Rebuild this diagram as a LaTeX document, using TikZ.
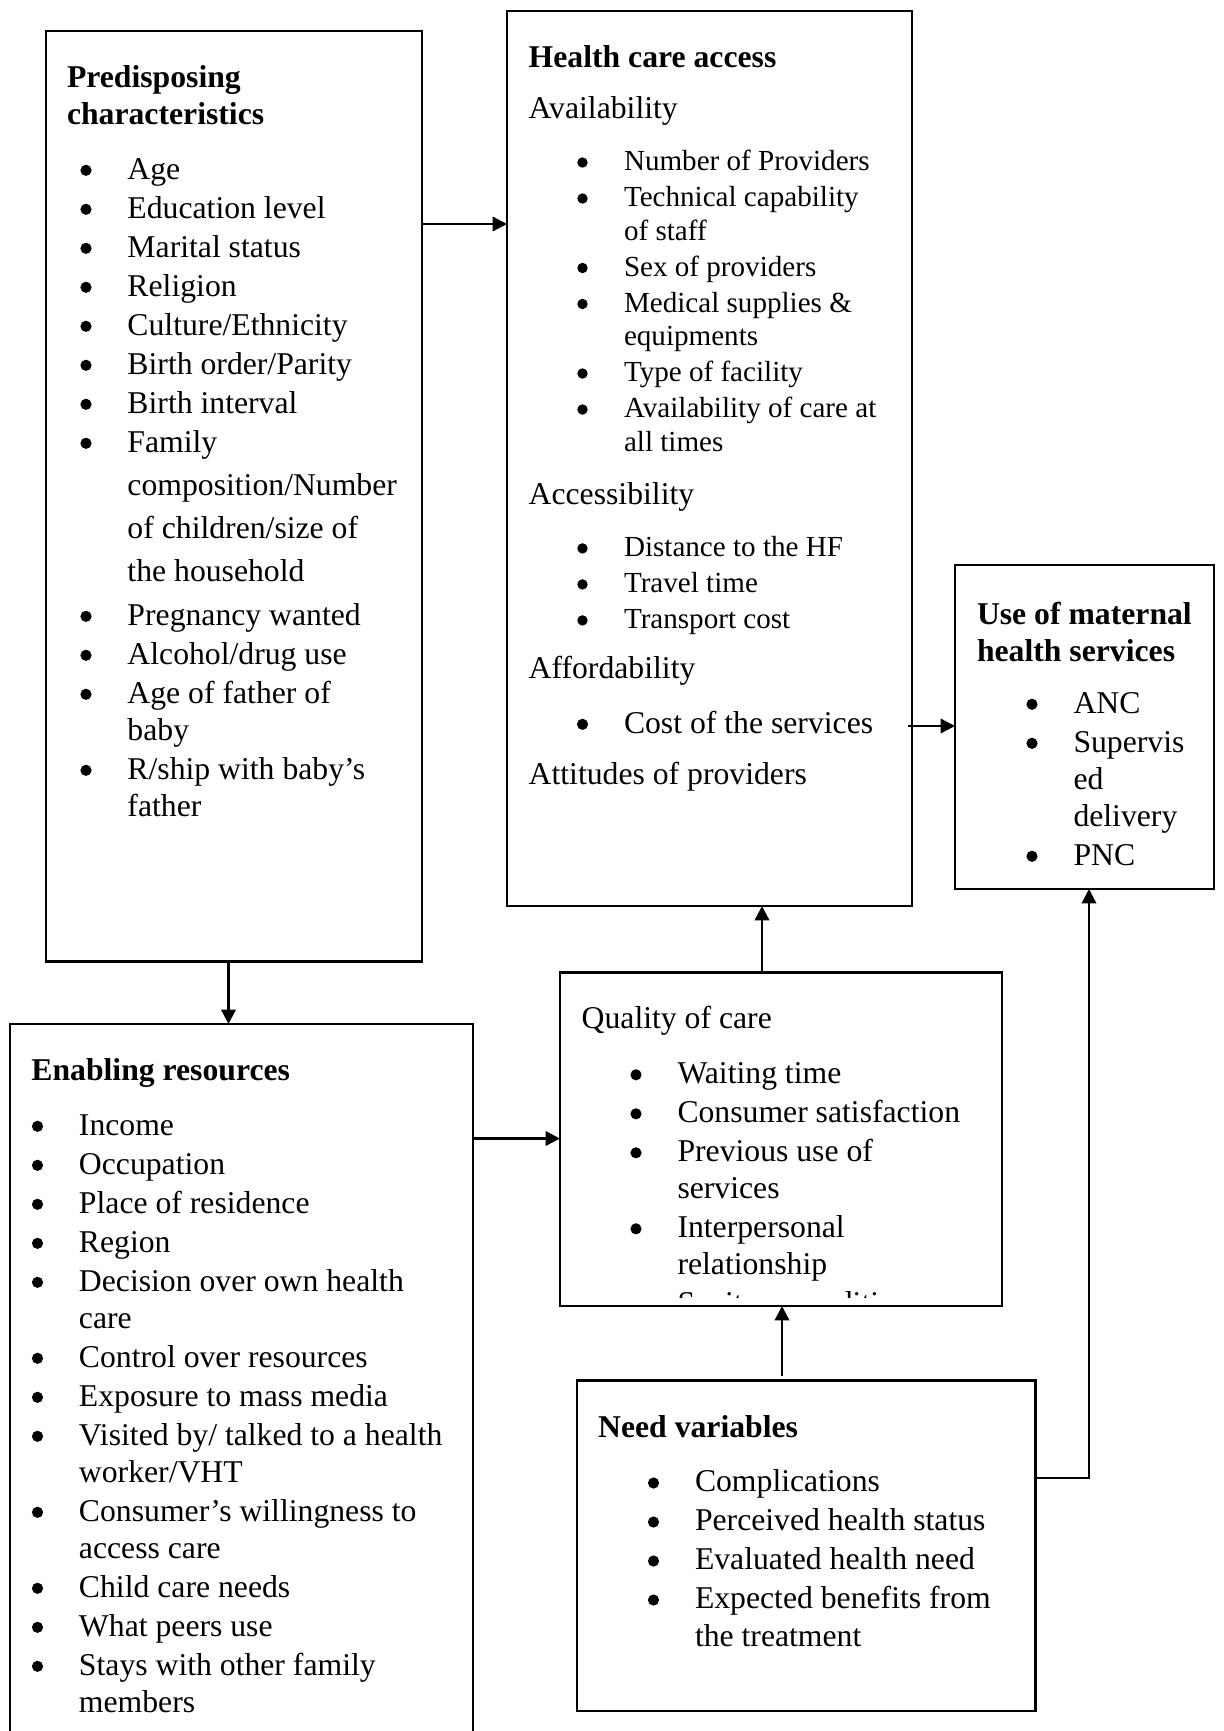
\documentclass[tikz,border=0pt]{standalone}
\usepackage{fontspec}
\setmainfont{Liberation Serif}
\usetikzlibrary{arrows.meta,fit}

% type sizes (1 unit of the picture = 0.5pt)
\newcommand\twelve{\fontsize{15.85pt}{18.5pt}\selectfont}
\newcommand\eleven{\fontsize{14.55pt}{16.75pt}\selectfont}
\newcommand\needsize{\fontsize{15.85pt}{18.75pt}\selectfont}
% fixed height for the first line, so a node's baseline sits 12pt below its top
\newcommand\firstline{\rule{0pt}{12pt}}
% hanging indent of the list texts (the bullets are drawn separately)
\newcommand\ind{\hspace*{20.75pt}}

\tikzset{
  box/.style={draw, line width=1.2pt, inner sep=0pt, outer sep=0pt},
  arr/.style={line width=1.2pt, -{Triangle[length=7.2pt,width=7.2pt]}},
  txt/.style={anchor=north west, yshift=12pt, inner sep=0pt, outer sep=0pt,
              align=left, font=\twelve},
  head/.style={txt, font=\twelve\bfseries},
  small/.style={txt, font=\eleven},
}

\begin{document}
\begin{tikzpicture}[x=0.5pt, y=-0.5pt]
\useasboundingbox (0,0) rectangle (1224,1731);
\clip (0,0) rectangle (1224,1731);

% ---------------- frames ----------------
\node[box, fit={(46,31) (422,961.5)}] (pre) {};
\node[box, fit={(507,11) (912,906)}] (hca) {};
\node[box, fit={(955,565) (1214,889)}] (use) {};
\node[box, fit={(560,972.5) (1002,1306)}] (qual) {};
\node[box, fit={(10,1024) (473,1780)}] (enab) {};
\node[box, fit={(577,1380.5) (1035.5,1711)}] (need) {};

% ---------------- predisposing characteristics ----------------
\node[head] (pre-h) at (67,87.3) {\firstline Predisposing\\characteristics};
\node[txt] (pre-l) at (86,179) {\firstline\ind Age\\[1pt]
  \ind Education level\\[1pt]
  \ind Marital status\\[1pt]
  \ind Religion\\[1pt]
  \ind Culture/Ethnicity\\[1pt]
  \ind Birth order/Parity\\[1pt]
  \ind Birth interval\\[1pt]
  \ind Family\\[3pt]
  \ind composition/Number\\[3pt]
  \ind of children/size of\\[3pt]
  \ind the household\\[3.5pt]
  \ind Pregnancy wanted\\[1pt]
  \ind Alcohol/drug use\\[1pt]
  \ind Age of father of\\
  \ind baby\\[1pt]
  \ind R/ship with baby’s\\
  \ind father};
\foreach \b in {179,218,257,296,335,374,413,452,625,664,703,779}
  \fill (86,\b-8.7) circle (5.6);

% ---------------- health care access ----------------
\node[head] (hca-h) at (528.7,67) {\firstline Health care access};
\node[txt] (hca-a) at (528.7,118) {\firstline Availability};
\node[small] (hca-al) at (582.5,170.5) {\firstline\ind Number of Providers\\[1.25pt]
  \ind Technical capability\\
  \ind of staff\\[1.25pt]
  \ind Sex of providers\\[1.25pt]
  \ind Medical supplies \&\\
  \ind equipments\\[1.25pt]
  \ind Type of facility\\[1.25pt]
  \ind Availability of care at\\
  \ind all times};
\node[txt] (hca-b) at (528.7,504.5) {\firstline Accessibility};
\node[small] (hca-bl) at (582.5,556.4) {\firstline\ind Distance to the HF\\[1.25pt]
  \ind Travel time\\[1.25pt]
  \ind Transport cost};
\node[txt] (hca-c) at (528.7,678.8) {\firstline Affordability};
\node[txt] (hca-cl) at (582.5,733) {\firstline\ind Cost of the services};
\node[txt] (hca-d) at (528.7,784.8) {\firstline Attitudes of providers};
\foreach \b in {170.5,206.5,276,312,381.5,417.5,556.4,592.4,628.4}
  \fill (582.5,\b-8) circle (5.2);
\fill (582.5,733-8.7) circle (5.6);

% ---------------- use of maternal health services ----------------
\node[head] (use-h) at (977,624) {\firstline Use of maternal\\health services};
\node[txt] (use-l) at (1032,713) {\firstline\ind ANC\\[1pt]
  \ind Supervis\\
  \ind ed\\
  \ind delivery\\[1pt]
  \ind PNC};
\foreach \b in {713,752,865}
  \fill (1032,\b-8.7) circle (5.6);

% ---------------- quality of care (last item cut by the frame) ----------------
\node[txt] (qual-h) at (581.7,1028.5) {\firstline Quality of care};
\begin{scope}
  \clip (560,972.5) rectangle (1002,1297.5);
  \node[txt] (qual-l) at (636,1083.5) {\firstline\ind Waiting time\\[1pt]
    \ind Consumer satisfaction\\[1pt]
    \ind Previous use of\\
    \ind services\\[1pt]
    \ind Interpersonal\\
    \ind relationship\\[1pt]
    \ind Sanitary conditions};
  \foreach \b in {1083.5,1122.5,1161.5,1237.5,1313.5}
    \fill (636,\b-8.7) circle (5.6);
\end{scope}

% ---------------- enabling resources ----------------
\node[head] (enab-h) at (31.4,1080.3) {\firstline Enabling resources};
\node[txt] (enab-l) at (37.5,1135) {\firstline\ind Income\\[1pt]
  \ind Occupation\\[1pt]
  \ind Place of residence\\[1pt]
  \ind Region\\[1pt]
  \ind Decision over own health\\
  \ind care\\[1pt]
  \ind Control over resources\\[1pt]
  \ind Exposure to mass media\\[1pt]
  \ind Visited by/ talked to a health\\
  \ind worker/VHT\\[1pt]
  \ind Consumer’s willingness to\\
  \ind access care\\[1pt]
  \ind Child care needs\\[1pt]
  \ind What peers use\\[1pt]
  \ind Stays with other family\\
  \ind members};
\foreach \b in {1135,1174,1213,1252,1291,1367,1406,1445,1521,1597,1636,1675}
  \fill (37.5,\b-8.7) circle (5.6);

% ---------------- need variables ----------------
\node[head] (need-h) at (598.2,1437) {\firstline Need variables};
\node[txt, font=\needsize] (need-l) at (653.5,1491.7) {\firstline\ind Complications\\[0.75pt]
  \ind Perceived health status\\[0.75pt]
  \ind Evaluated health need\\[0.75pt]
  \ind Expected benefits from\\
  \ind the treatment};
\foreach \b in {1491.7,1530.7,1569.7,1608.7}
  \fill (653.5,\b-8.7) circle (5.6);

% ---------------- connectors ----------------
\coordinate (k1) at (465,224);
\coordinate (k2) at (228.5,990);
\coordinate (k3) at (515,1138.5);
\coordinate (k4) at (762,940);
\coordinate (k5) at (782,1340);
\coordinate (k6) at (930,726);
\coordinate (k7) at (1089,1478);

\draw[arr] (pre.east |- k1) -- (hca.west |- k1);
\draw[arr] (pre.south -| k2) -- (enab.north -| k2);
\draw[arr] (enab.east |- k3) -- (qual.west |- k3);
\draw[arr] (qual.north -| k4) -- (hca.south -| k4);
\draw[arr] ([yshift=2.5pt]need.north -| k5) -- (qual.south -| k5);
\draw[arr] ([xshift=-2pt]hca.east |- k6) -- (use.west |- k6);
\draw[arr] (need.east |- k7) -| (use.south -| k7);
\end{tikzpicture}
\end{document}
